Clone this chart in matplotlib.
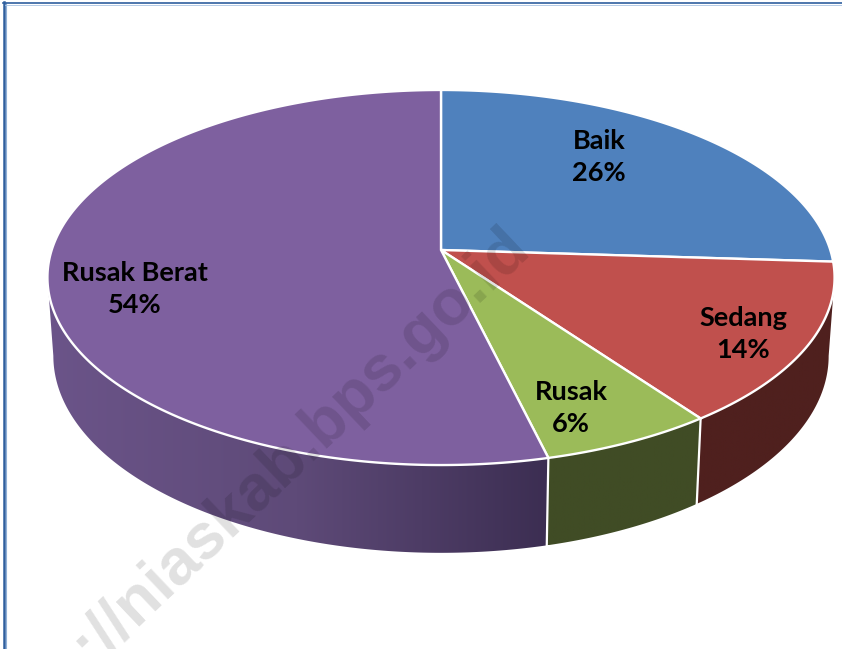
import numpy as np
import matplotlib
matplotlib.use("Agg")
import matplotlib.pyplot as plt
from matplotlib.colors import LinearSegmentedColormap
from matplotlib.patches import Polygon

categories = ["Baik", "Sedang", "Rusak", "Rusak Berat"]
values = [26.0, 14.0, 6.2, 53.8]
top_colors = ["#4f81bd", "#c0504d", "#9bbb59", "#7e609f"]
wall_colors = [
    ["#2f4d71", "#2f4d71"],
    ["#4f201e", "#4f201e"],
    ["#404c25", "#404c25"],
    ["#6b5489", "#5e4a78", "#3c2e52"],
]
label_xy = [(599, 157), (743, 334), (571, 408), (135, 289)]

W, H = 842, 649
CX, CY = 441, 250
A, B, K = 389.3, 183.5, 0.1467
# bottom rim: same circle, slightly narrower, taller and lower on the page
WALL_SX, WALL_B, WALL_CY = 0.985, 192.7, 327
# angles where the top ellipse reaches its left and right extremes
T_RIGHT = np.degrees(np.arccos(-K))
T_LEFT = 360 - T_RIGHT


def project(t_deg, sx=1.0, b=B, cy=CY):
    # t is clockwise from the top of the pie, v points at the viewer
    t = np.radians(t_deg)
    u, v = np.sin(t), -np.cos(t)
    den = 1 - K * v
    return CX + sx * A * u / den, cy + b * v / den


fig = plt.figure(figsize=(W / 100, H / 100), dpi=100)
ax = fig.add_axes([0, 0, 1, 1])
ax.set_xlim(0, W)
ax.set_ylim(H, 0)
ax.axis("off")

edges = np.concatenate([[0], np.cumsum(values)]) / np.sum(values) * 360

# side walls, only the part that faces the viewer
for i in range(len(values)):
    t0, t1 = max(edges[i], T_RIGHT), min(edges[i + 1], T_LEFT)
    if t1 <= t0:
        continue
    ts = np.linspace(t0, t1, 200)
    xt, yt = project(ts)
    xb, yb = project(ts, WALL_SX, WALL_B, WALL_CY)
    pts = np.r_[np.c_[xt, yt], np.c_[xb, yb][::-1]]
    poly = Polygon(pts, closed=True, fc="none", ec="none")
    ax.add_patch(poly)
    cmap = LinearSegmentedColormap.from_list("wall", wall_colors[i])
    grad = np.linspace(0, 1, 256).reshape(1, -1)
    im = ax.imshow(grad, cmap=cmap, vmin=0, vmax=1, aspect="auto", zorder=2,
                   extent=[pts[:, 0].min(), pts[:, 0].max(), pts[:, 1].max(), pts[:, 1].min()])
    im.set_clip_path(poly)

# white seams on the wall
for t in edges[1:-1]:
    if T_RIGHT < t < T_LEFT:
        x0, y0 = project(t)
        x1, y1 = project(t, WALL_SX, WALL_B, WALL_CY)
        ax.plot([x0, x1], [y0, y1], color="white", lw=1.6, zorder=3)

# top face
for i in range(len(values)):
    ts = np.linspace(edges[i], edges[i + 1], 300)
    x, y = project(ts)
    pts = np.r_[[[CX, CY]], np.c_[x, y]]
    ax.add_patch(Polygon(pts, closed=True, fc=top_colors[i], ec="white", lw=1.7,
                         joinstyle="miter", zorder=4))

ax.set_xlim(0, W)
ax.set_ylim(H, 0)

for name, val, (lx, ly) in zip(categories, values, label_xy):
    ax.text(lx, ly, f"{name}\n{round(val)}%", ha="center", va="center", color="black",
            fontsize=19.5, fontweight="bold", family="Lato", linespacing=1.42, zorder=6)

# watermark
ax.text(520, 238, "http://niaskab.bps.go.id", rotation=43.5, rotation_mode="anchor",
        ha="right", va="center", fontsize=46.5, fontweight="bold", family="Liberation Sans",
        color="black", alpha=0.12, zorder=7, clip_on=True)

# page frame
ax.plot([5.5, 5.5], [3, H], color="#8fb0d8", lw=0.8, zorder=8)
ax.plot([4, 4], [2, H], color="#2f5f9e", lw=1.8, zorder=8)
ax.plot([5, W], [4.5, 4.5], color="#a9c3e2", lw=0.6, zorder=8)
ax.plot([3, W], [3, 3], color="#2f5f9e", lw=1.2, zorder=8)

fig.savefig("out.png", dpi=100)
